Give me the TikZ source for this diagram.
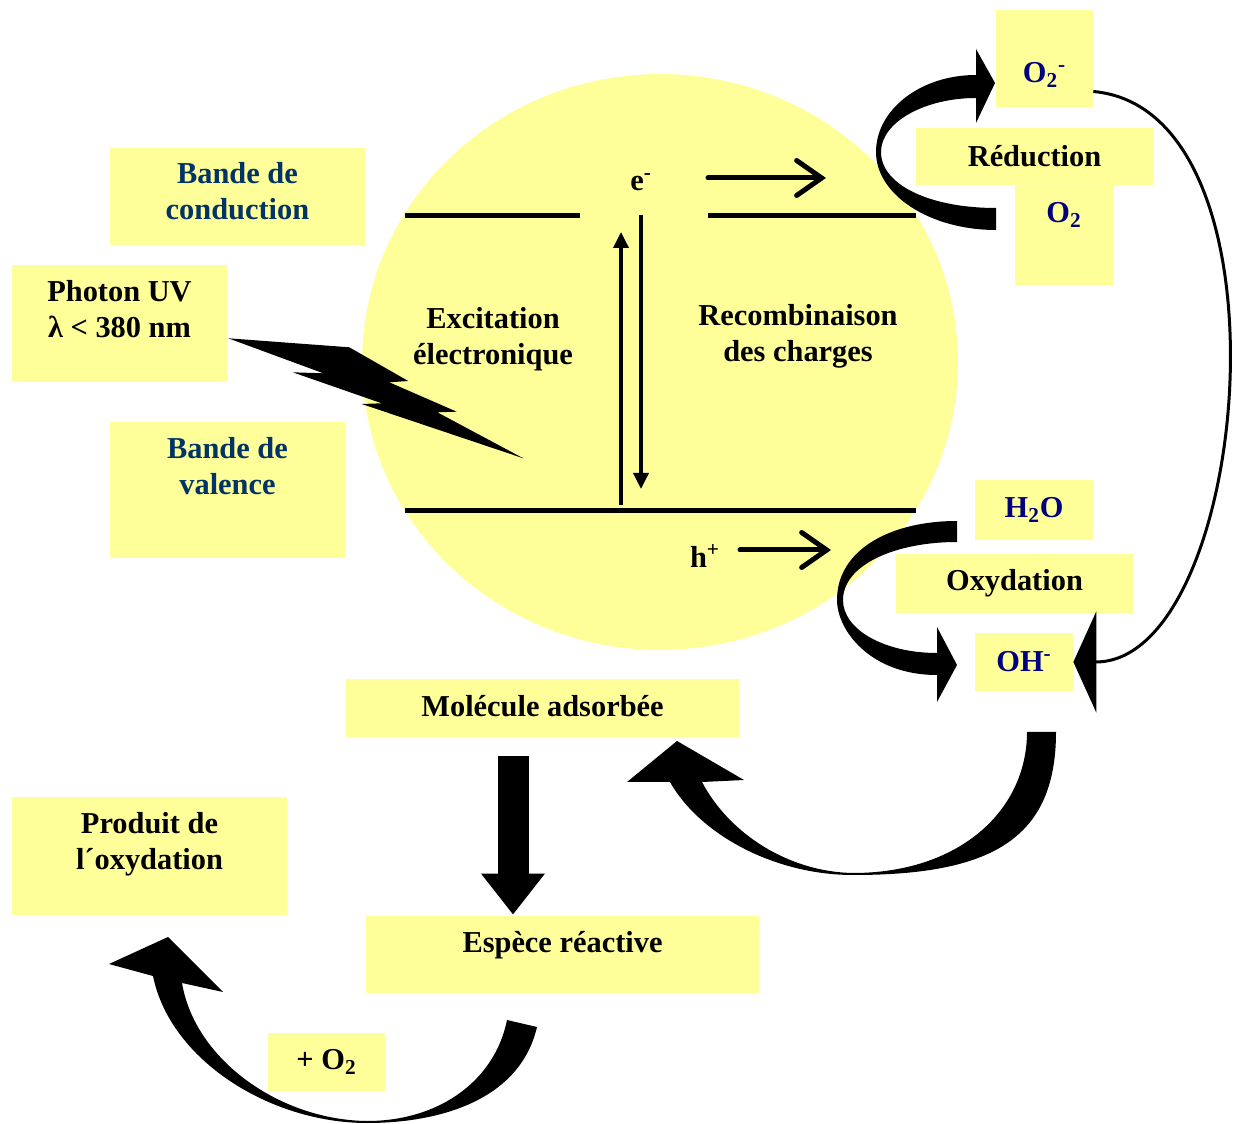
\documentclass[tikz,border=0pt]{standalone}
\usepackage{fontspec}
\setmainfont{Liberation Serif}
\usetikzlibrary{arrows.meta,calc}
\definecolor{boxyellow}{HTML}{FFFF99}
\definecolor{bandblue}{HTML}{003366}
\definecolor{chemblue}{HTML}{000080}

\begin{document}
\begin{tikzpicture}[
  x=0.02cm, y=-0.02cm,
  box/.style={fill=boxyellow, inner sep=0pt, align=center,
              font=\fontsize{17.3}{20.4}\selectfont\bfseries},
  lbl/.style={inner sep=0pt, align=center,
              font=\fontsize{17.3}{20.4}\selectfont\bfseries},
  bandline/.style={line width=0.1cm},
  carrier/.style={line width=0.1cm, line cap=round,
                  -{Straight Barb[length=0.5cm, width=0.7cm, line cap=round]}},
  jump/.style={line width=0.07cm, -{Triangle[length=0.32cm, width=0.3cm]}},
  downarrow/.style={line width=0.62cm, -{Triangle[length=0.82cm, width=1.22cm]}},
  returnline/.style={line width=0.06cm, -{Triangle[length=0.46cm, width=2.02cm]}},
  blockarrow/.style={fill=black}
]
\useasboundingbox (0,0) rectangle (1241,1124);

% --- TiO2 particle ---
\fill[boxyellow] (660,362) ellipse [x radius=5.96cm, y radius=5.76cm];

% --- left labels ---
\node[box, text=bandblue, minimum width=5.1cm, minimum height=1.94cm, text depth=0.22cm]
  (cond) at (237.5,196.5) {Bande de\\conduction};
\node[box, minimum width=4.3cm, minimum height=2.34cm, text depth=0.58cm]
  (photon) at (119.5,323.5) {Photon UV\\λ < 380 nm};
\node[box, text=bandblue, minimum width=4.7cm, minimum height=2.72cm, text depth=0.96cm]
  (val) at (227.5,490) {Bande de\\valence};

% --- inside the particle ---
\node[lbl] (excit) at (493,339) {Excitation\\électronique};
\node[lbl] (recomb) at (798,336) {Recombinaison\\des charges};
\node[lbl] (elec) at (641,182) {e\textsuperscript{-}};
\node[lbl] (hole) at (705,556) {h\textsuperscript{+}};

% --- reduction side ---
\node[box, text=chemblue, minimum width=1.94cm, minimum height=1.94cm,
      text height=0.98cm, text depth=0cm]
  (O2m) at (1044.5,58.5) {O\textsubscript{2}\textsuperscript{-}};
\node[box, minimum width=4.74cm, minimum height=1.14cm] (reduc) at (1034.5,156.5) {Réduction};
\node[box, text=chemblue, minimum width=1.96cm, minimum height=1.98cm,
      text height=0.42cm, text depth=0.92cm]
  (O2) at (1064,235.5) {O\textsubscript{2}};

% --- oxidation side ---
\node[box, text=chemblue, minimum width=2.36cm, minimum height=1.2cm] (H2O) at (1034,510) {H\textsubscript{2}O};
\node[box, minimum width=4.74cm, minimum height=1.18cm] (oxyd) at (1014.5,583.5) {Oxydation};
\node[box, text=chemblue, minimum width=1.96cm, minimum height=1.16cm] (OHm) at (1024,662) {OH\textsuperscript{-}};

% --- degradation chain ---
\node[box, minimum width=7.86cm, minimum height=1.16cm, text depth=0.1cm] (mol) at (542.5,708) {Molécule adsorbée};
\node[box, minimum width=7.86cm, minimum height=1.54cm, text height=0.42cm, text depth=0.52cm]
  (esp) at (562.5,954.5) {Espèce réactive};
\node[box, minimum width=5.5cm, minimum height=2.36cm, text depth=0.6cm]
  (prod) at (149.5,856) {Produit de\\l´oxydation};
\node[box, minimum width=2.34cm, minimum height=1.16cm] (plusO2) at (326.5,1062) {+ O\textsubscript{2}};

% --- energy bands ---
\draw[bandline] (405,216) -- (580,216);
\draw[bandline] (708,216) -- (916,216);
\draw[bandline] (405,511) -- (916,511);

% --- charge transfers ---
\draw[carrier] (708,178) -- (826,178);
\draw[carrier] (740,550) -- (831,550);
\draw[jump] (621,505) -- (621,232);
\draw[jump] (641,215) -- (641,489);

% --- UV photon ---
\fill (228.3,338.3) -- (349.3,347.3) -- (408.3,381) -- (389.3,382.3) -- (456.7,411.7)
  -- (437.3,412.3) -- (523.3,458.3) -- (361.7,404) -- (381.7,403.3) -- (292.7,372.3)
  -- (323.3,373.3) -- cycle;

% --- curved block arrows ---
\fill[blockarrow] (996,230) .. controls (930,230) and (876,195) .. (876,152)
  .. controls (876,110) and (920,75) .. (976,75) -- (976,49) -- (995,83) -- (976,123) -- (976,98)
  .. controls (925,98) and (881,122) .. (881,152) .. controls (881,185) and (930,208) .. (996,208) -- cycle;
\fill[blockarrow] (957,521) .. controls (890,521) and (837,550) .. (837,600)
  .. controls (837,630) and (870,675) .. (937,675) -- (937,702) -- (957,665) -- (937,627) -- (937,653)
  .. controls (885,653) and (843,630) .. (843,600) .. controls (843,565) and (895,542) .. (957,542) -- cycle;
\fill[blockarrow] (1056,732) .. controls (1056,840) and (990,875) .. (853,875)
  .. controls (775,875) and (700,835) .. (670,782) -- (627,782) -- (677,741) -- (744,780) -- (702,782)
  .. controls (730,835) and (790,872) .. (853,873) .. controls (960,873) and (1027,810) .. (1027,732) -- cycle;
\fill[blockarrow] (537,1027) .. controls (520,1100) and (440,1123) .. (367,1123)
  .. controls (270,1123) and (170,1060) .. (153,976) -- (109,964) -- (168,937) -- (223,992) -- (182,983)
  .. controls (195,1060) and (280,1120) .. (367,1121) .. controls (440,1121) and (495,1080) .. (507,1020) -- cycle;

% --- connectors ---
\draw[downarrow] ($(mol.south)+(-29.5,19)$) -- ($(esp.north)+(-49.5,-1)$);
\draw[returnline] ($(O2m.east)+(0,33)$) .. controls (1300,110) and (1250,662) .. (OHm.east);

\end{tikzpicture}
\end{document}
